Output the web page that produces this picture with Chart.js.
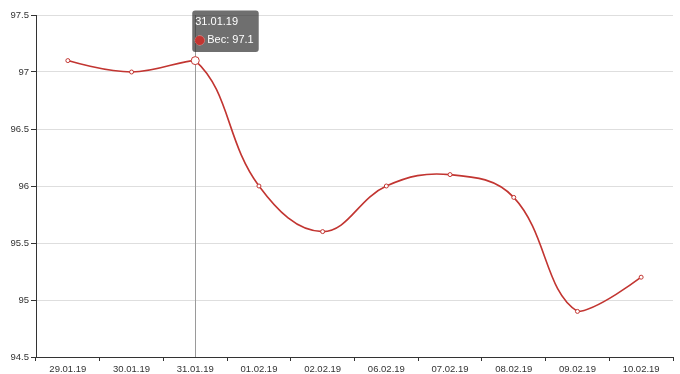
<!DOCTYPE html>
<html>
<head>
<meta charset="utf-8">
<script src="https://cdn.jsdelivr.net/npm/chart.js@4"></script>
<style>
  html, body { margin: 0; padding: 0; background: #fff; }
  #wrap { width: 680px; height: 374px; }
</style>
</head>
<body>
<div id="wrap"><canvas id="weightChart"></canvas></div>
<script>
// == data == //
const DATES = ['29.01.19', '30.01.19', '31.01.19', '01.02.19', '02.02.19', '06.02.19', '07.02.19', '08.02.19', '09.02.19', '10.02.19'];
const WEIGHT = [97.1, 97.0, 97.1, 96.0, 95.6, 96.0, 96.1, 95.9, 94.9, 95.2];
const Y_TICKS = [94.5, 95, 95.5, 96, 96.5, 97, 97.5];
const SERIES_NAME = 'Вес';
const ACTIVE_INDEX = 2;

const RED = '#c23531';
const FONT = "'Liberation Sans', Arial, Helvetica, sans-serif";
const SMOOTH = 0.4;

// tooltip box sits just to the right of the hovered point, near the top
Chart.Tooltip.positioners.pinned = function (items) {
  if (!items.length) return false;
  const el = items[0].element;
  return { x: el.x, y: el.y - 50 };
};

// vertical axis pointer under the active point
const axisPointer = {
  id: 'axisPointer',
  beforeDatasetsDraw(chart) {
    const active = chart.tooltip.getActiveElements();
    if (!active.length) return;
    const x = Math.round(active[0].element.x) + 0.5;
    const { top, bottom } = chart.chartArea;
    const ctx = chart.ctx;
    ctx.save();
    ctx.strokeStyle = '#9a9a9a';
    ctx.lineWidth = 1;
    ctx.beginPath();
    ctx.moveTo(x, top);
    ctx.lineTo(x, bottom);
    ctx.stroke();
    ctx.restore();
  }
};

// smoothing like the original: control points kept inside the points' bounding box
const boxedSmooth = {
  id: 'boxedSmooth',
  beforeDatasetsDraw(chart) {
    chart.getSortedVisibleDatasetMetas().forEach((meta) => {
      const line = meta.dataset;
      const pts = meta.data;
      if (!line || pts.length < 2) return;
      line.updateControlPoints(chart.chartArea, 'x');
      const xs = pts.map((p) => p.x);
      const ys = pts.map((p) => p.y);
      const minX = Math.min(...xs), maxX = Math.max(...xs);
      const minY = Math.min(...ys), maxY = Math.max(...ys);
      const clampX = (v) => Math.min(maxX, Math.max(minX, v));
      const clampY = (v) => Math.min(maxY, Math.max(minY, v));
      const last = pts.length - 1;
      pts.forEach((p, i) => {
        if (i === 0 || i === last) {
          p.cp1x = p.x; p.cp1y = p.y;
          p.cp2x = p.x; p.cp2y = p.y;
          return;
        }
        const prev = pts[i - 1];
        const next = pts[i + 1];
        const vx = (next.x - prev.x) * SMOOTH;
        const vy = (next.y - prev.y) * SMOOTH;
        const d0 = Math.hypot(p.x - prev.x, p.y - prev.y);
        const d1 = Math.hypot(next.x - p.x, next.y - p.y);
        const sum = d0 + d1 || 1;
        p.cp1x = clampX(p.x - vx * d0 / sum);
        p.cp1y = clampY(p.y - vy * d0 / sum);
        p.cp2x = clampX(p.x + vx * d1 / sum);
        p.cp2y = clampY(p.y + vy * d1 / sum);
      });
      line._path = undefined;
    });
  }
};

const chart = new Chart(document.getElementById('weightChart'), {
  type: 'line',
  data: {
    labels: DATES,
    datasets: [{
      label: SERIES_NAME,
      data: WEIGHT,
      borderColor: RED,
      backgroundColor: '#fff',
      borderWidth: 1.6,
      tension: 0.4,
      pointRadius: 2,
      pointBorderWidth: 1,
      pointBackgroundColor: '#fff',
      pointBorderColor: RED,
      pointHoverRadius: 4,
      pointHoverBorderWidth: 1,
      pointHoverBackgroundColor: '#fff',
      pointHoverBorderColor: RED,
    }]
  },
  options: {
    responsive: true,
    maintainAspectRatio: false,
    animation: false,
    events: [],
    layout: { padding: { top: 15, right: 7, left: 0, bottom: 0 } },
    scales: {
      x: {
        offset: true,
        grid: {
          offset: true,
          drawOnChartArea: false,
          drawTicks: true,
          tickLength: 4,
          tickColor: '#333',
        },
        border: { display: true, color: '#333', width: 1 },
        ticks: {
          autoSkip: false,
          maxRotation: 0,
          padding: 3,
          color: '#333',
          font: { family: FONT, size: 9.5 },
        },
        afterFit: (scale) => { scale.height = 17; },
      },
      y: {
        min: 94.5,
        max: 97.5,
        afterBuildTicks: (scale) => { scale.ticks = Y_TICKS.map((v) => ({ value: v })); },
        grid: {
          color: '#dedede',
          lineWidth: 1,
          tickLength: 5,
          tickColor: '#333',
        },
        border: { display: true, color: '#333', width: 1 },
        ticks: {
          padding: 2,
          color: '#333',
          font: { family: FONT, size: 9.5 },
          callback: (v) => String(v),
        },
        afterFit: (scale) => { scale.width = 36; },
      },
    },
    plugins: {
      legend: { display: false },
      tooltip: {
        enabled: true,
        position: 'pinned',
        xAlign: 'left',
        yAlign: 'top',
        caretSize: 0,
        caretPadding: 0,
        cornerRadius: 3,
        padding: { top: 5, bottom: 5, left: 3, right: 5 },
        backgroundColor: 'rgba(50,50,50,0.7)',
        titleColor: '#fff',
        bodyColor: '#fff',
        titleFont: { family: FONT, size: 11, weight: 'normal' },
        bodyFont: { family: FONT, size: 11 },
        titleMarginBottom: 5,
        usePointStyle: true,
        boxWidth: 9,
        boxHeight: 9,
        boxPadding: 1,
        displayColors: true,
        callbacks: {
          labelColor: () => ({ borderColor: RED, backgroundColor: RED, borderWidth: 0 }),
          labelPointStyle: () => ({ pointStyle: 'circle', rotation: 0 }),
        },
      },
    },
  },
  plugins: [axisPointer, boxedSmooth],
});

const ACTIVE = [{ datasetIndex: 0, index: ACTIVE_INDEX }];
chart.setActiveElements(ACTIVE);
chart.tooltip.setActiveElements(ACTIVE, { x: 0, y: 0 });
chart.update();
</script>
</body>
</html>
